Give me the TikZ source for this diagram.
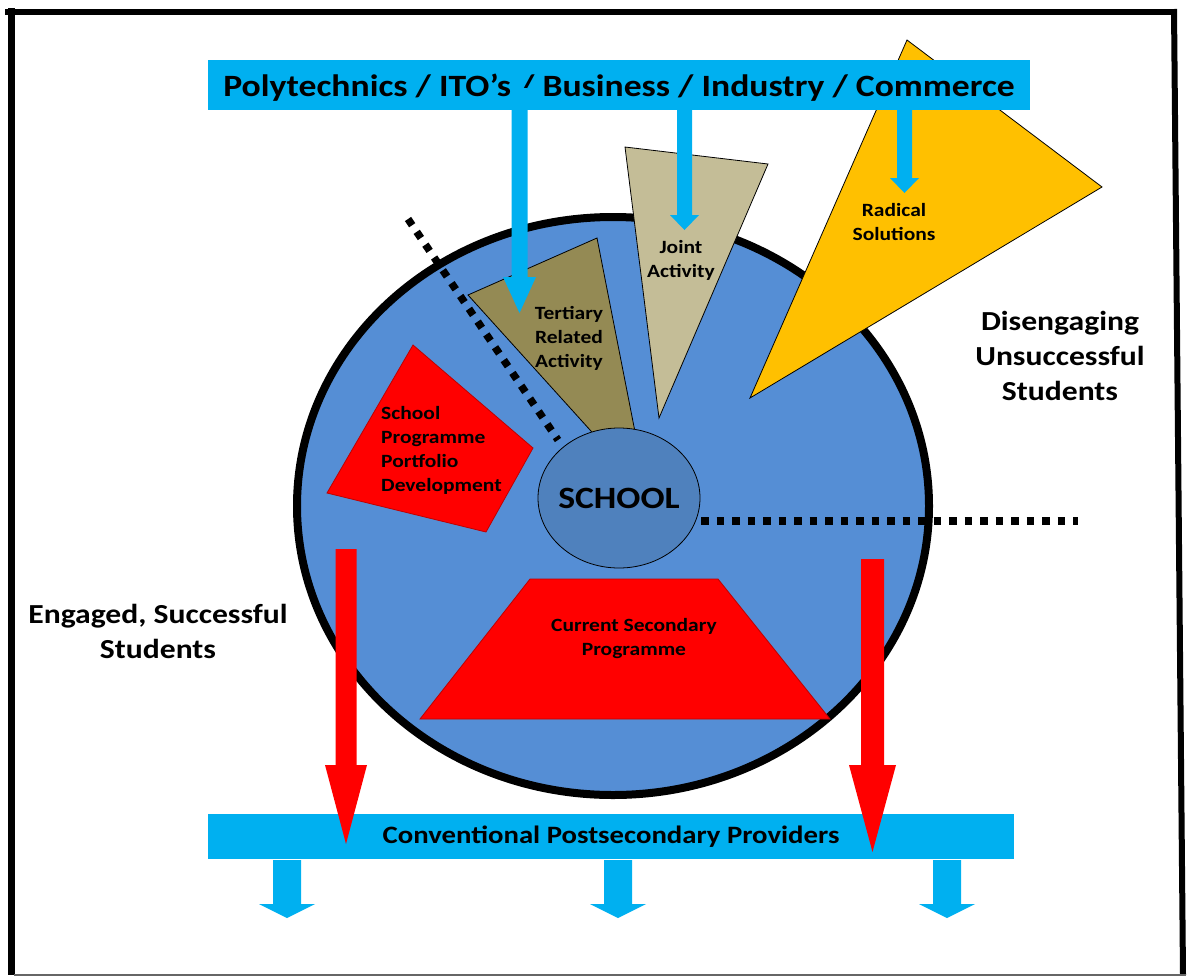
\documentclass[tikz,border=0pt]{standalone}
\usepackage{fontspec}
\setmainfont{Carlito}[FakeStretch=1.15]
\usetikzlibrary{shapes.geometric}
\definecolor{cyanb}{HTML}{00B0F0}
\definecolor{circblue}{HTML}{558ED5}
\definecolor{schoolblue}{HTML}{4F81BD}
\definecolor{olivetri}{HTML}{948A54}
\definecolor{tantri}{HTML}{C4BD97}
\definecolor{goldtri}{HTML}{FFC000}
\definecolor{redfill}{HTML}{FF0000}
\newcommand{\blockdown}[7]{% fill, x, ytop, yhead, ytip, shaft half, head half
  \fill[#1] (#2-#6,#3) -- (#2+#6,#3) -- (#2+#6,#4) -- (#2+#7,#4) -- (#2,#5) -- (#2-#7,#4) -- (#2-#6,#4) -- cycle;}
\begin{document}
\begin{tikzpicture}[x=1pt,y=-1pt,line join=miter]
\tikzset{
  lbl/.style={font=\bfseries\fontsize{18.7}{24}\selectfont, align=center, inner sep=0pt},
  biglbl/.style={font=\bfseries\fontsize{27.5}{35}\selectfont, align=center, inner sep=0pt},
  dots/.style={line width=7.5pt, dash pattern=on 7.5pt off 8pt},
  tri/.style={draw=black, line width=0.8pt},
  redshape/.style={fill=redfill, draw=red!75!black, line width=0.8pt},
  bluebar/.style={fill=cyanb, inner sep=0pt},
}
\useasboundingbox (0,0) rectangle (1189,978);
\fill[white] (0,0) rectangle (1189,978);
% outer frame
\draw[line width=6pt] (5,12) -- (1177,12);
\draw[line width=7pt] (11,8) -- (11,975);
\draw[line width=6pt] (1174,9) -- (1183,975);
\draw[line width=1.5pt, black!60] (14,975) -- (1186,975);

% big circle
\node (circ) [ellipse, draw=black, line width=8pt, fill=circblue, minimum width=632pt, minimum height=578pt, inner sep=0pt] at (613,506) {};

% diagonal dotted line
\coordinate (d1) at (408,219);
\coordinate (d2) at (558,440);
\draw[dots] (d1) -- (d2);

% triangles
\filldraw[tri, fill=olivetri] (468,295) -- (597,238) -- (647,493) -- cycle;
\filldraw[tri, fill=tantri] (625,147) -- (768,164) -- (659,418) -- cycle;
\filldraw[tri, fill=goldtri] (907,40) -- (1102,187) -- (750,398) -- cycle;

% school programme
\filldraw[redshape] (413,345) -- (533,448) -- (486,532) -- (327,493) -- cycle;
% current secondary
\filldraw[redshape] (530,579) -- (718,579) -- (830,719) -- (420,719) -- cycle;

% school
\node (school) [ellipse, draw=black, line width=0.8pt, fill=schoolblue, minimum width=162pt, minimum height=140pt, inner sep=0pt] at (619,498) {};
\node (schooltxt) [inner sep=0pt, font=\bfseries\fontsize{31}{36}\selectfont] at (school.center) {SCHOOL};

% horizontal dotted line
\coordinate (h1) at (701,521);
\coordinate (h2) at (1078,521);
\draw[dots] (h1) -- (h2);

% labels in shapes
\node (tert) [lbl] at (569,338) {Tertiary\\Related\\Activity};
\node (joint) [lbl] at (681,260) {Joint\\Activity};
\node (radical) [lbl] at (894,222) {Radical\\Solutions};
\node (sprog) [lbl, align=left, anchor=west] at (381,450) {School\\Programme\\Portfolio\\Development};
\node (current) [lbl] at (634,639) {Current Secondary\\Programme};

% side labels
\node (diseng) [biglbl] at (1060,356) {Disengaging\\Unsuccessful\\Students};
\node (engaged) [biglbl] at (158,631) {Engaged, Successful\\Students};

% top banner
\node (banner) [bluebar, minimum width=822pt, minimum height=50pt, text height=25pt, text depth=3pt, font=\bfseries\fontsize{31}{36}\selectfont] at (619,85) {Polytechnics / ITO’s / Business / Industry / Commerce};
\blockdown{cyanb}{519.5}{88}{277}{313}{8}{16.5}
\blockdown{cyanb}{684.5}{105}{215}{230}{7.5}{14.5}
\blockdown{cyanb}{904.5}{105}{178}{193}{7.5}{14.5}

% bottom bar
\node (bar) [bluebar, minimum width=806pt, minimum height=45pt, font=\bfseries\fontsize{25}{30}\selectfont] at (611,836.5) {Conventional Postsecondary Providers};

% red arrows
\blockdown{redfill}{346}{549}{765}{844}{10.5}{21}
\blockdown{redfill}{872.5}{559}{765}{852}{11.5}{23.5}

% bottom blue arrows
\blockdown{cyanb}{287}{860}{904}{918}{14}{28}
\blockdown{cyanb}{618}{860}{904}{918}{14}{28}
\blockdown{cyanb}{947}{860}{904}{918}{14}{28}
\end{tikzpicture}
\end{document}
